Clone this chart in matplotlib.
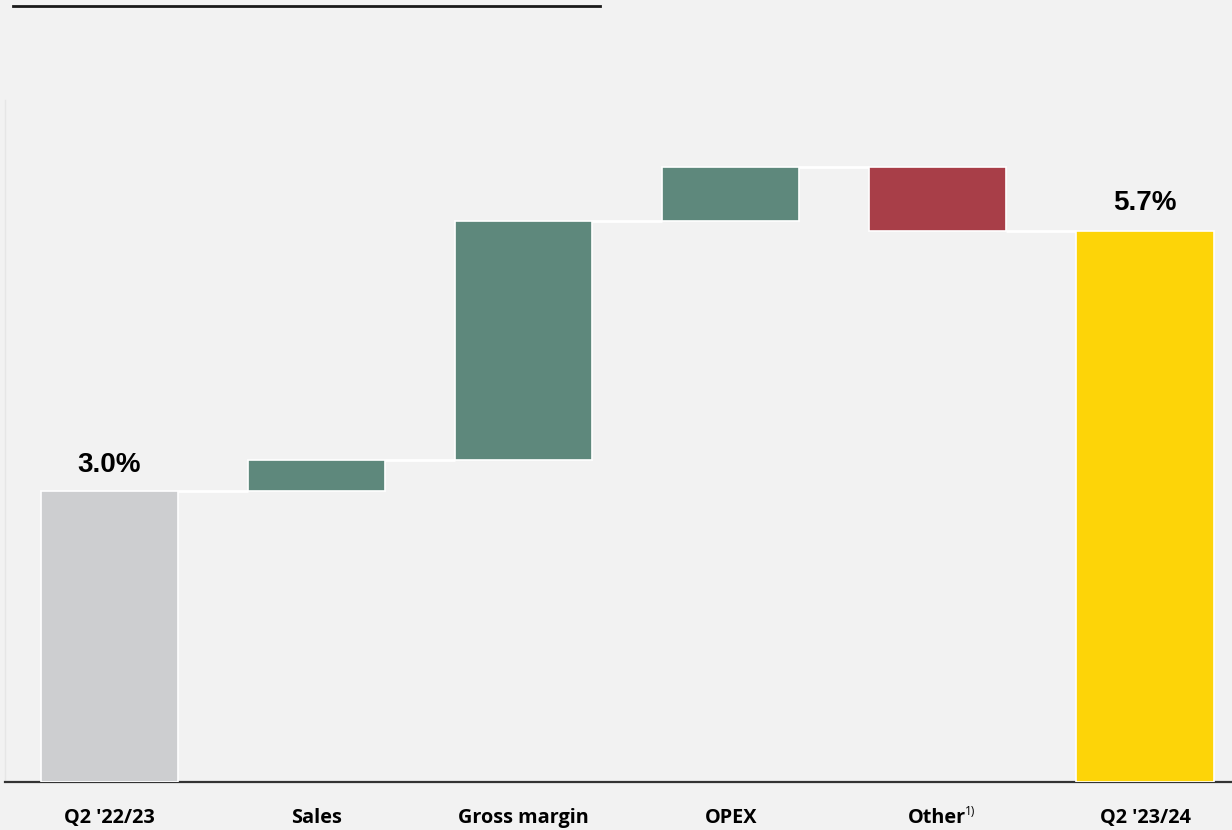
import matplotlib
matplotlib.use("Agg")
import matplotlib.pyplot as plt
from matplotlib.lines import Line2D
import numpy as np

categories = ["Q2 '22/23", "Sales", "Gross margin", "OPEX", "Other", "Q2 '23/24"]
start_value = 3.0
deltas = [0.32, 2.46, 0.56, -0.66]
colors = ["#CDCED0", "#5E887C", "#5E887C", "#5E887C", "#A83E48", "#FDD408"]

bg = "#F2F2F2"
fig = plt.figure(figsize=(12.32, 8.30), dpi=100, facecolor=bg)
ax = fig.add_axes([5/1232, 48/830, 1227/1232, 682/830], facecolor=bg)

# compute waterfall
levels = [start_value]
for d in deltas:
    levels.append(levels[-1] + d)
end_value = levels[-1]

bottoms = [0.0]
heights = [start_value]
for i, d in enumerate(deltas):
    bottoms.append(min(levels[i], levels[i + 1]))
    heights.append(abs(d))
bottoms.append(0.0)
heights.append(end_value)

x = np.arange(len(categories))
width = 0.662
ax.bar(x, heights, bottom=bottoms, width=width, color=colors,
       edgecolor="white", linewidth=1.2, zorder=3)

# connectors
for i in range(len(categories) - 1):
    ax.plot([x[i] + width / 2, x[i + 1] - width / 2], [levels[i], levels[i]],
            color="white", linewidth=2, zorder=2, solid_capstyle="butt")

# value labels
ax.text(x[0], start_value + 0.13, f"{start_value:.1f}%", ha="center", va="bottom",
        fontsize=20, fontweight="bold", family="Liberation Sans", color="black")
ax.text(x[-1], end_value + 0.15, f"{end_value:.1f}%", ha="center", va="bottom",
        fontsize=20, fontweight="bold", family="Liberation Sans", color="black")

ax.set_xlim(-0.505, 5.42)
ax.set_ylim(0, 682 / 97)

ax.set_xticks([])
ax.set_yticks([])
for s in ["top", "right"]:
    ax.spines[s].set_visible(False)
ax.spines["left"].set_color("#E6E6E6")
ax.spines["left"].set_linewidth(1)
ax.spines["bottom"].set_color("#333333")
ax.spines["bottom"].set_linewidth(1.6)

# category labels
lab_font = dict(fontsize=14.3, fontweight="bold", family="Open Sans", color="black")
for i, c in enumerate(categories):
    if c == "Other":
        ax.annotate(c, xy=(x[i], 0), xycoords=("data", "axes fraction"),
                    xytext=(-1, -36), textcoords="offset pixels",
                    ha="center", va="center", **lab_font)
        ax.annotate("1)", xy=(x[i], 0), xycoords=("data", "axes fraction"),
                    xytext=(27, -29), textcoords="offset pixels",
                    ha="left", va="center", fontsize=8.5,
                    family="Open Sans", color="black")
    else:
        ax.annotate(c, xy=(x[i], 0), xycoords=("data", "axes fraction"),
                    xytext=(0, -36), textcoords="offset pixels",
                    ha="center", va="center", **lab_font)

# top decorative line
fig.add_artist(Line2D([13/1232, 600/1232], [1 - 6/830, 1 - 6/830],
                      color="#1A1A1A", linewidth=2, transform=fig.transFigure))

fig.savefig("out.png", dpi=100, facecolor=bg)
